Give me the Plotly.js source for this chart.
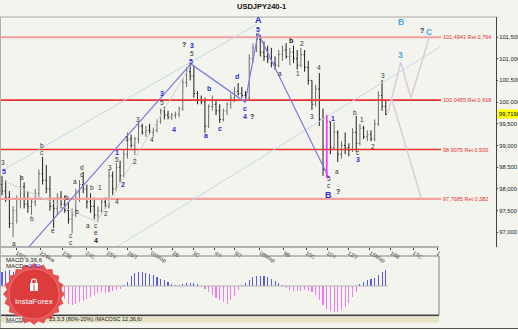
<!DOCTYPE html>
<html><head><meta charset="utf-8">
<script src="https://cdn.plot.ly/plotly-3.0.1.min.js"></script>
<style>html,body{margin:0;padding:0;background:#f4f4ee;}#c{width:518px;height:330px;}</style>
</head><body><div id="c"></div>
<script>
// ---- data ----
const openP = [98.10,97.95,97.80,97.20,97.50,97.75,98.05,97.65,97.60,97.70,97.90,98.35,98.20,98.00,97.60,97.55,97.80,97.65,97.50,97.30,
97.40,97.90,98.10,98.00,97.70,97.60,97.40,97.50,97.70,97.60,98.30,98.00,98.50,98.30,98.80,99.15,99.00,99.15,99.45,99.30,
99.35,99.30,99.35,99.55,99.80,99.70,99.65,99.70,99.72,99.85,100.45,100.70,100.60,100.20,100.05,100.00,99.45,99.90,99.95,99.80,
99.60,99.80,99.95,100.10,100.25,100.20,100.15,100.10,101.00,101.25,101.45,101.15,101.05,101.00,100.90,100.85,101.10,101.20,101.05,101.15,
101.00,100.85,101.10,100.80,100.50,99.95,100.30,99.60,98.45,99.55,98.95,99.30,98.80,99.00,98.95,98.90,99.30,99.05,99.40,99.20,
99.25,99.15,99.50,100.15,99.90];
const highP = [98.30,98.20,97.95,97.60,97.85,98.32,98.15,97.95,97.75,98.00,98.45,98.74,98.55,98.30,97.80,97.90,97.95,97.85,97.70,97.55,
98.00,98.20,98.39,98.10,97.90,97.80,97.60,97.75,97.80,98.45,98.40,98.60,98.65,98.90,99.30,99.25,99.20,99.54,99.50,99.45,
99.50,99.40,99.60,99.85,99.89,99.80,99.75,99.78,99.90,100.55,100.80,100.88,100.85,100.25,100.15,100.10,99.95,100.15,100.05,99.95,
99.85,100.00,100.20,100.35,100.44,100.35,100.25,101.10,101.35,101.59,101.55,101.40,101.30,101.25,101.05,101.20,101.30,101.36,101.25,101.30,
101.20,101.25,101.20,100.95,100.50,100.40,100.67,99.85,99.70,99.55,99.54,99.35,99.10,99.30,99.05,99.40,99.68,99.50,99.45,99.35,
99.35,99.60,100.25,100.51,100.05];
const lowP = [97.85,97.70,97.10,96.89,97.20,97.55,97.55,97.45,97.40,97.60,97.80,98.10,97.90,97.50,97.10,97.40,97.55,97.45,97.20,96.98,
97.35,97.70,97.90,97.55,97.45,97.30,97.24,97.45,97.55,97.55,97.85,97.95,98.15,98.25,98.70,98.95,98.78,99.05,99.25,99.20,
99.25,99.20,99.30,99.50,99.60,99.60,99.59,99.62,99.65,99.80,100.35,100.50,100.10,99.95,99.95,99.29,99.40,99.80,99.70,99.52,
99.55,99.70,99.85,100.00,100.15,100.10,100.00,100.05,100.90,101.15,101.05,100.95,100.90,100.80,100.74,100.80,100.95,101.00,100.85,100.90,
100.75,100.80,100.70,100.40,99.82,99.90,99.45,98.30,98.25,98.80,98.90,98.62,98.70,98.80,98.75,98.85,98.85,99.00,99.15,99.10,
99.10,99.10,99.45,99.80,99.70];
const closeP = [97.95,97.80,97.20,97.50,97.75,98.05,97.65,97.60,97.70,97.90,98.35,98.20,98.00,97.60,97.55,97.80,97.65,97.50,97.30,97.40,
97.90,98.10,98.00,97.70,97.60,97.40,97.50,97.70,97.60,98.30,98.00,98.50,98.30,98.80,99.15,99.00,99.15,99.45,99.30,99.35,
99.30,99.35,99.55,99.80,99.70,99.65,99.70,99.72,99.85,100.45,100.70,100.60,100.20,100.05,100.00,99.45,99.90,99.95,99.80,99.60,
99.80,99.95,100.10,100.25,100.20,100.15,100.10,101.00,101.25,101.45,101.15,101.05,101.00,100.90,100.85,101.10,101.20,101.05,101.15,101.00,
100.85,101.10,100.80,100.50,99.95,100.30,99.60,98.45,99.55,98.95,99.30,98.80,99.00,98.95,98.90,99.30,99.05,99.40,99.20,99.25,
99.15,99.50,100.15,99.90,99.719];
const macdHist = [0.34,0.37,0.39,0.34,0.29,0.22,0.12,0.02,-0.07,-0.12,
-0.15,-0.15,-0.17,-0.17,-0.20,-0.20,-0.22,-0.32,-0.44,-0.46,
-0.44,-0.39,-0.37,-0.32,-0.27,-0.22,-0.17,-0.15,-0.17,-0.15,
-0.12,-0.10,-0.07,0.02,0.10,0.24,0.32,0.34,0.34,0.32,
0.29,0.27,0.22,0.17,0.15,0.10,0.05,0.02,0.02,0.05,
0.07,0.07,0.07,0.05,-0.02,-0.07,-0.15,-0.22,-0.29,-0.34,
-0.39,-0.44,-0.34,-0.24,-0.10,0.02,0.07,0.15,0.22,0.24,
0.24,0.24,0.22,0.17,0.12,0.07,0.02,-0.05,-0.10,-0.12,
-0.12,-0.12,-0.10,-0.12,-0.15,-0.22,-0.34,-0.46,-0.56,-0.61,
-0.63,-0.63,-0.59,-0.51,-0.41,-0.27,-0.15,0.05,0.10,0.15,
0.17,0.20,0.27,0.34,0.39];
const barIdx = openP.map((_, i) => i);

const dayTickPos = [3.8,10.3,16.5,22.8,28.5,34.1,40.4,46.3,51.8,57.7,63.1,69.9,76.4,82.4,88.1,93.8,99.7,105.4,111.4,117.9];
const dayTickText = ['19П','22Фев','23В','24С','25Ч','26П','01Мар','2В','3С','4Ч','5П','08Мар','9В','10С','11Ч','12П','15Мар','16В','17С','1'];

const priceTicks = [97.0,97.5,98.0,98.5,99.0,99.5,100.0,100.5,101.0,101.5];
const priceTickText = ['97,000','97,500','98,000','98,500','99,000','99,500','100,000','100,500','101,000','101,500'];

const fibLevels = [101.4941, 100.0455, 98.9075, 97.7685];
const fibRatios = ['0,764','0,618','0,500','0,382'];
const fibHeavy = [true, false, false, true];

// analyst drawn lines (bar index, price)
const chanUpX = [0, 69], chanUpY = [98.42, 101.79];
const chanLoX = [30.6, 118.7], chanLoY = [96.64, 101.27];
const waveX = [7.05, 51.2, 65.9, 69.4, 88.6], waveY = [96.64, 100.88, 100.00, 101.59, 98.25];
const grayX = [0.3, 25.7, 51.0], grayY = [98.19, 97.24, 100.83];
const projAX = [104.6, 108.1, 110.8, 116.0], projAY = [99.75, 100.92, 100.09, 101.55];
const projBX = [105.7, 113.6], projBY = [100.05, 97.79];
const magentaBar = 88;

// wave labels: [bar index, price, text, kind]
const waveLabels = [
[0.3,98.60,'3','k'],[0.5,98.41,'5','b'],[3.3,96.75,'a','k'],[5.4,98.27,'a','k'],[8.1,97.31,'b','k'],
[10.9,98.99,'b','k'],[10.9,98.83,'c','k'],[13.8,97.05,'e','k'],[17.6,97.81,'b','k'],[19.8,98.16,'a','k'],
[20.3,97.49,'b','k'],[18.7,96.93,'c','k'],[18.7,96.77,'c','k'],[21.7,98.50,'d','k'],[21.7,98.34,'c','k'],
[24.4,98.04,'b','k'],[26.6,98.04,'1','k'],[23.3,97.15,'a','k'],[25.5,97.15,'c','k'],[25.5,96.99,'e','k'],
[25.5,96.82,'4','kb'],[28.2,97.44,'2','k'],[29.3,98.50,'3','k'],[31.2,97.70,'4','k'],[31.2,98.67,'5','k'],
[31.2,98.85,'1','b'],[32.8,98.09,'2','b'],[33.9,99.15,'1','k'],[36.0,98.62,'2','k'],[36.9,99.59,'3','k'],
[40.7,99.13,'4','k'],[43.4,100.19,'3','b'],[43.4,100.00,'5','k'],[46.6,99.38,'4','b'],[49.3,101.32,'?','kb'],
[51.5,101.30,'3','b'],[51.5,101.11,'5','k'],[51.2,100.93,'5','b'],[55.3,99.22,'a','b'],[56.1,100.32,'b','b'],
[59.1,99.40,'c','b'],[63.7,100.60,'d','b'],[65.9,99.86,'c','b'],[65.9,99.66,'4','b'],[67.8,99.66,'?','kb'],
[69.4,101.89,'A','B'],[69.4,101.68,'5','b'],[78.3,101.43,'b','kb'],[81.3,101.34,'2','k'],[75.3,100.65,'a','k'],
[80.2,100.67,'1','k'],[84.0,99.66,'3','k'],[85.9,100.79,'4','k'],[88.6,98.23,'5','k'],[88.6,98.07,'c','k'],
[88.6,97.85,'B','B'],[91.1,97.93,'?','kb'],[89.7,99.63,'1','b'],[90.8,98.39,'a','k'],[95.7,99.77,'b','k'],
[97.6,99.59,'1','k'],[96.5,98.83,'c','k'],[96.5,98.67,'3','b'],[100.5,98.97,'2','k'],[103.3,100.62,'3','k'],
[108.1,101.85,'B','c'],[107.9,101.09,'3','c'],[113.8,101.66,'?','kb'],[115.7,101.62,'C','c']
];

// ---- layout helpers ----
const W = 518, H = 330;
const px = x => x / W;
const py = y => 1 - y / H;
const FONT = 'Liberation Sans, Arial, sans-serif';
const NARROW = 'Liberation Sans Narrow, Liberation Sans, Arial';
const X_LO = -0.542, X_HI = 133.88;
const xAtPx = p => X_LO + (X_HI - X_LO) * p / 496;

const traces = [];
fibLevels.forEach((lv, k) => {
  traces.push({type:'scatter', mode:'lines', x:[X_LO, xAtPx(441)], y:[lv, lv],
    line:{color: fibHeavy[k] ? '#f3a1a1' : '#f03030', width: fibHeavy[k] ? 2.2 : 1.6}, hoverinfo:'skip'});
});
traces.push({type:'scatter', mode:'lines', x:chanUpX, y:chanUpY, line:{color:'#c2dbea', width:1}, hoverinfo:'skip'});
traces.push({type:'scatter', mode:'lines', x:chanLoX, y:chanLoY, line:{color:'#c2dbea', width:1}, hoverinfo:'skip'});
traces.push({type:'scatter', mode:'lines', x:grayX, y:grayY, line:{color:'#d2d2d2', width:1}, hoverinfo:'skip'});
traces.push({type:'scatter', mode:'lines', x:projAX, y:projAY, line:{color:'#dccbd6', width:1.5}, hoverinfo:'skip'});
traces.push({type:'scatter', mode:'lines', x:projBX, y:projBY, line:{color:'#dccbd6', width:1.5}, hoverinfo:'skip'});
traces.push({type:'scatter', mode:'lines', x:waveX, y:waveY, line:{color:'#7b7be6', width:1.2}, hoverinfo:'skip'});
traces.push({type:'ohlc', x:barIdx, open:openP, high:highP, low:lowP, close:closeP,
  increasing:{line:{color:'#6c6c6c', width:1}}, decreasing:{line:{color:'#1e1e1e', width:1}},
  tickwidth:0.3, hoverinfo:'skip', xaxis:'x', yaxis:'y'});
traces.push({type:'scatter', mode:'lines', x:[magentaBar, magentaBar], y:[highP[magentaBar], lowP[magentaBar]],
  line:{color:'#ff33ff', width:1.6}, hoverinfo:'skip'});
traces.push({type:'bar', x:barIdx, y:macdHist, xaxis:'x', yaxis:'y2', width:0.3,
  marker:{color:macdHist.map(v => v >= 0 ? '#5a5ae6' : '#f07af0'), line:{width:0}}, hoverinfo:'skip'});

const shapes = [];
shapes.push({type:'line', xref:'paper', yref:'paper', x0:0, x1:px(496), y0:py(17), y1:py(17), line:{color:'#a8a8a8', width:1}});
shapes.push({type:'line', xref:'paper', yref:'paper', x0:0, x1:px(439), y0:py(247), y1:py(247), line:{color:'#707070', width:1}});
shapes.push({type:'rect', xref:'paper', yref:'paper', x0:px(0.5), x1:px(439), y0:py(315), y1:py(256), line:{color:'#808080', width:1}});
shapes.push({type:'line', xref:'paper', yref:'paper', x0:0, x1:px(439), y0:py(315.5), y1:py(315.5), line:{color:'#404040', width:1.5}});
shapes.push({type:'rect', xref:'paper', yref:'paper', x0:0, x1:px(439), y0:py(322.5), y1:py(316.5), fillcolor:'#e6e2c6', line:{width:0}});
shapes.push({type:'line', xref:'paper', yref:'paper', x0:0, x1:1, y0:py(328.5), y1:py(328.5), line:{color:'#555', width:1}});
shapes.push({type:'line', xref:'paper', yref:'paper', x0:px(0.5), x1:px(0.5), y0:py(328), y1:py(17), line:{color:'#b0b0b0', width:1}});
shapes.push({type:'line', xref:'x', yref:'y2', x0:-0.5, x1:barIdx.length - 0.5, y0:0, y1:0, line:{color:'#b4b4b4', width:1}});
(function(){
  const cx = 34, cy = 294, N = 20; let d = '';
  for (let k = 0; k < 2 * N; k++) {
    const a = k * Math.PI / N, r = (k % 2 === 0) ? 31 : 27.5;
    const X = px(cx + r * Math.cos(a)), Y = py(cy + r * Math.sin(a));
    d += (k === 0 ? 'M' : 'L') + X.toFixed(5) + ',' + Y.toFixed(5) + ' ';
  }
  d += 'Z';
  shapes.push({type:'path', xref:'paper', yref:'paper', path:d, fillcolor:'#e65252', line:{width:0}});
  shapes.push({type:'circle', xref:'paper', yref:'paper', x0:px(cx-25), x1:px(cx+25), y0:py(cy+25), y1:py(cy-25), fillcolor:'#dc3c3c', line:{color:'#ee7070', width:1}});
  shapes.push({type:'rect', xref:'paper', yref:'paper', x0:px(30), x1:px(38), y0:py(291), y1:py(283), fillcolor:'#ffffff', line:{width:0}});
  shapes.push({type:'line', xref:'paper', yref:'paper', x0:px(34), x1:px(34), y0:py(291), y1:py(283), line:{color:'#dc3c3c', width:1}});
  shapes.push({type:'circle', xref:'paper', yref:'paper', x0:px(31.5), x1:px(36.5), y0:py(284), y1:py(279), fillcolor:'rgba(0,0,0,0)', line:{color:'#ffffff', width:1.2}});
})();

const ann = [];
ann.push({xref:'paper', yref:'paper', x:px(261), y:py(6), text:'<b>USDJPY240-1</b>', showarrow:false, font:{family:FONT, size:7.5, color:'#111'}, xanchor:'center', yanchor:'middle'});
fibLevels.forEach((lv, k) => {
  ann.push({xref:'paper', yref:'y', x:px(441), y:lv, xanchor:'left', yanchor:'middle', showarrow:false,
    text: lv.toFixed(4).replace('.', ',') + ' Ret ' + fibRatios[k], font:{family:FONT, size:5.5, color:'#e03030'}});
});
ann.push({xref:'paper', yref:'y', x:px(496.5), y:closeP[closeP.length-1], xanchor:'left', yanchor:'middle', showarrow:false,
  text:closeP[closeP.length-1].toFixed(4).replace('.', ','), bgcolor:'#ffff00', borderpad:1,
  font:{family:NARROW, size:5.8, color:'#000'}});
ann.push({xref:'paper', yref:'paper', x:px(4), y:py(259.5), xanchor:'left', yanchor:'middle', showarrow:false, text:'MACD 9,36,6', font:{family:FONT, size:6, color:'#222'}});
ann.push({xref:'paper', yref:'paper', x:px(4), y:py(266), xanchor:'left', yanchor:'middle', showarrow:false,
  text:'MACD =<span style="color:#3a3ae0">' + macdHist[macdHist.length-1].toFixed(2).replace('.', ',') + '</span>', font:{family:FONT, size:6, color:'#222'}});
ann.push({xref:'paper', yref:'paper', x:px(34), y:py(301.5), xanchor:'center', yanchor:'middle', showarrow:false, text:'InstaForex', font:{family:FONT, size:8, color:'#ffffff'}});
ann.push({xref:'paper', yref:'paper', x:px(6), y:py(319), xanchor:'left', yanchor:'middle', showarrow:false, text:'MACD', font:{family:FONT, size:5.5, color:'#222'}, bgcolor:'#f8f8f2', bordercolor:'#777', borderwidth:0.5, borderpad:0});
ann.push({xref:'paper', yref:'paper', x:px(47), y:py(319), xanchor:'left', yanchor:'middle', showarrow:false, text:'13,3,3 (80%-20%) /MACOSC 12,36,6/', font:{family:FONT, size:5.5, color:'#222'}});

const kindStyle = {
  k:{size:6.5, color:'#333333', bold:false},
  kb:{size:7, color:'#222222', bold:true},
  b:{size:7, color:'#2c2cd8', bold:true},
  B:{size:9, color:'#2c2cd8', bold:true},
  c:{size:8.5, color:'#4aa8e6', bold:true}
};
waveLabels.forEach(([x, y, t, kind]) => {
  const s = kindStyle[kind];
  ann.push({xref:'x', yref:'y', x:x, y:y, text: s.bold ? '<b>' + t + '</b>' : t, showarrow:false,
    font:{family:FONT, size:s.size, color:s.color}, xanchor:'center', yanchor:'middle'});
});

const layout = {
  width:W, height:H, margin:{l:0, r:0, t:0, b:0}, showlegend:false,
  paper_bgcolor:'#f4f4ee', plot_bgcolor:'#f4f4ee', bargap:0,
  xaxis:{domain:[0, 496/518], range:[X_LO, X_HI], rangeslider:{visible:false}, showgrid:false, zeroline:false,
    showline:false, tickmode:'array', tickvals:dayTickPos, ticktext:dayTickText, ticks:'outside', ticklen:2,
    tickcolor:'#444', tickfont:{family:FONT, size:5.5, color:'#333'}, ticklabelposition:'outside right', anchor:'y', fixedrange:true},
  yaxis:{domain:[1 - 247/330, 1 - 17/330], range:[96.661, 101.961], side:'right', anchor:'x', showgrid:false, zeroline:false,
    showline:true, linecolor:'#444', linewidth:1, tickmode:'array', tickvals:priceTicks, ticktext:priceTickText,
    ticks:'outside', ticklen:1, tickcolor:'#444', tickfont:{family:NARROW, size:5.8, color:'#222'}, fixedrange:true},
  yaxis2:{domain:[1 - 315/330, 1 - 256/330], range:[-0.708, 0.732], anchor:'x', visible:false, showgrid:false, zeroline:false, fixedrange:true},
  shapes:shapes, annotations:ann
};
Plotly.newPlot('c', traces, layout, {staticPlot:true, displayModeBar:false});
</script></body></html>
